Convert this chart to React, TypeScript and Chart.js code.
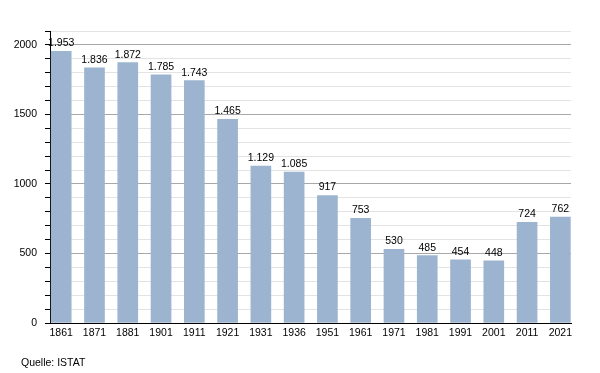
import React, { useEffect, useRef } from "react";
import { Chart, registerables } from "chart.js";

Chart.register(...registerables);

const years = ["1861", "1871", "1881", "1901", "1911", "1921", "1931", "1936", "1951", "1961", "1971", "1981", "1991", "2001", "2011", "2021"];
const population = [1953, 1836, 1872, 1785, 1743, 1465, 1129, 1085, 917, 753, 530, 485, 454, 448, 724, 762];
const sourceText = "Quelle: ISTAT";

const FONT = "'Liberation Sans', Arial, sans-serif";

function fmt(v: number): string {
  return String(v).replace(/\B(?=(\d{3})+(?!\d))/g, ".");
}

const labelPlugin = {
  id: "barLabels",
  afterDatasetsDraw(chart: any) {
    const ctx = chart.ctx;
    const meta = chart.getDatasetMeta(0);
    ctx.save();
    ctx.font = `10.5px ${FONT}`;
    ctx.fillStyle = "#000";
    ctx.textAlign = "center";
    ctx.textBaseline = "alphabetic";
    meta.data.forEach((bar: any, i: number) => {
      ctx.fillText(fmt(population[i]), bar.x, bar.y - 5);
    });
    ctx.textAlign = "left";
    ctx.fillText(sourceText, 21, 366);
    ctx.restore();
  },
};

export default function App() {
  const ref = useRef<HTMLCanvasElement>(null);
  useEffect(() => {
    document.body.style.margin = "0";
    const chart = new Chart(ref.current!, {
      type: "bar",
      data: {
        datasets: [
          {
            data: population.map((v, i) => ({ x: i, y: v })),
            backgroundColor: "#9cb4cf",
            borderWidth: 0,
            barThickness: 20,
          } as any,
        ],
      },
      options: {
        animation: false,
        responsive: false,
        devicePixelRatio: 1,
        layout: { padding: { top: 31, right: 29, left: 0, bottom: 0 } },
        plugins: { legend: { display: false }, tooltip: { enabled: false } },
        scales: {
          x: {
            type: "linear",
            min: -0.337,
            max: 15.32,
            offset: false,
            grid: { display: false, drawTicks: false },
            border: { display: true, color: "#000", width: 1 },
            ticks: {
              stepSize: 1,
              includeBounds: false,
              autoSkip: false,
              maxRotation: 0,
              padding: 4,
              color: "#000",
              font: { family: FONT, size: 10.5 },
              callback: (v: any) => (Number.isInteger(v) && years[v] ? years[v] : ""),
            },
            afterFit: (s: any) => {
              s.height = 373 - 323;
            },
          },
          y: {
            type: "linear",
            min: 0,
            max: 2100,
            grid: {
              color: (c: any) => (c.tick && c.tick.value % 500 === 0 ? "#a8a8a8" : "#e3e3e3"),
              tickColor: "#000",
              tickLength: 5,
              drawTicks: true,
            },
            border: { display: true, color: "#000", width: 1 },
            ticks: {
              stepSize: 100,
              autoSkip: false,
              padding: 8,
              color: "#000",
              font: { family: FONT, size: 10.5 },
              callback: (v: any) => (v % 500 === 0 ? String(v) : ""),
            },
            afterFit: (s: any) => {
              s.width = 50;
            },
          },
        },
      },
      plugins: [labelPlugin],
    });
    return () => chart.destroy();
  }, []);
  return (
    <canvas
      ref={ref}
      width={600}
      height={373}
      style={{ position: "absolute", left: 0, top: 0, width: 600, height: 373 }}
    />
  );
}
